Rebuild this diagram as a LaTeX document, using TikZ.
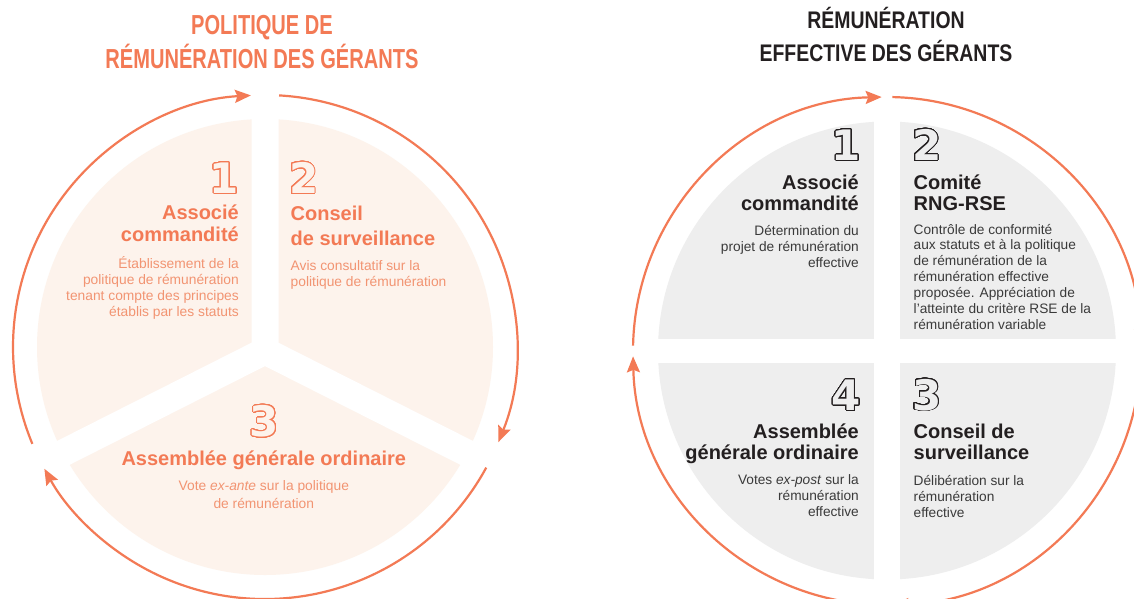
\documentclass[tikz,border=0pt]{standalone}
\usepackage{fontspec}
\setmainfont{Liberation Sans}
\newfontfamily\condA[FakeStretch=0.73]{Liberation Sans}
\newfontfamily\condB[FakeStretch=0.81]{Liberation Sans}
\newfontfamily\digitfont{DejaVu Sans}
\usepackage[copies]{contour}
\contourlength{0.8pt}
\contournumber{40}
\usetikzlibrary{arrows.meta,calc}
\definecolor{corange}{HTML}{F37A55}
\definecolor{lorange}{HTML}{F29472}
\definecolor{lfill}{HTML}{FDF3EC}
\definecolor{gfill}{HTML}{EEEEEE}
\definecolor{dark}{HTML}{231F20}
\definecolor{bodygray}{HTML}{3A3A3A}
\newcommand{\RT}[2]{\parbox[t]{#1}{\raggedleft #2}}
\newcommand{\LT}[2]{\parbox[t]{#1}{\raggedright #2}}
\newcommand{\CT}[2]{\parbox[t]{#1}{\centering #2}}
\tikzset{
  cyc/.style={draw=corange, line width=2.2pt, -{Stealth[length=16pt,width=13pt,inset=2.5pt]}},
  band/.style={draw=white, line width=#1},
  ltitle/.style={inner sep=0pt, anchor=base, text=corange, font=\fontsize{27.5}{34}\selectfont\condA\bfseries},
  rtitle/.style={inner sep=0pt, anchor=base, text=dark, font=\fontsize{24}{33}\selectfont\condB\bfseries},
  ldigit/.style={inner sep=0pt, font=\fontsize{42}{42}\selectfont\digitfont\bfseries},
  lhead/.style={inner sep=0pt, text=corange, font=\fontsize{20}{22.4}\selectfont\bfseries},
  lbody/.style={inner sep=0pt, text=lorange, font=\fontsize{13.8}{15.9}\selectfont},
  rhead/.style={inner sep=0pt, text=dark, font=\fontsize{20}{21.5}\selectfont\bfseries},
  rbody/.style={inner sep=0pt, text=bodygray, font=\fontsize{13.7}{15.9}\selectfont},
}
\begin{document}
\begin{tikzpicture}[x=1pt,y=1pt]
\useasboundingbox (0,0) rectangle (1134,-598);
\fill[white] (0,0) rectangle (1134,-598);

% ---------- titles ----------
\node[ltitle] (tl) at (262,-34) {\CT{420pt}{POLITIQUE DE\\RÉMUNÉRATION DES GÉRANTS}};
\node[rtitle] (tr) at (886,-28) {\CT{400pt}{RÉMUNÉRATION\\EFFECTIVE DES GÉRANTS}};

% ---------- left cycle ----------
\coordinate (LC) at (265,-347);
\coordinate (LY) at (265,-351);
\fill[lfill] (LC) circle[radius=228];
\draw[band=27pt, line cap=round] (LY) -- ++(90:240) (LY) -- ++(206.8:240) (LY) -- ++(-26.8:240);
\draw[cyc] ($(LC)+(202.6:252)$) arc[start angle=202.6, end angle=93.2, radius=252];
\draw[cyc] ($(LC)+(86.8:252)$) arc[start angle=86.8, end angle=-22.2, radius=252];
\draw[cyc] ($(LC)+(-28.6:252)$) arc[start angle=-28.6, end angle=-151.1, radius=252];

\node[ldigit, anchor=base east] (ld1) at (239,-193.5) {\contour{corange}{\color{lfill}1}};
\node[lhead, anchor=base east] (lh1) at (239,-219.3) {\RT{200pt}{Associé\\commandité}};
\node[lbody, anchor=base east] (lb1) at (239,-268.3) {\RT{220pt}{Établissement de la\\politique de rémunération\\tenant compte des principes\\établis par les statuts}};

\node[ldigit, anchor=base west] (ld2) at (289,-193.5) {\contour{corange}{\color{lfill}2}};
\node[lhead, anchor=base west, font=\fontsize{20}{25.7}\selectfont\bfseries] (lh2) at (290.5,-220) {\LT{200pt}{Conseil\\de surveillance}};
\node[lbody, anchor=base west, font=\fontsize{13.8}{16}\selectfont] (lb2) at (290.5,-270) {\LT{220pt}{Avis consultatif sur la\\politique de rémunération}};

\node[ldigit, anchor=base] (ld3) at (264.3,-436.5) {\contour{corange}{\color{lfill}3}};
\node[lhead, anchor=base] (lh3) at (263.8,-465.7) {\CT{340pt}{Assemblée générale ordinaire}};
\node[lbody, anchor=base, font=\fontsize{13.8}{17.6}\selectfont] (lb3) at (263.8,-490.7) {\CT{260pt}{Vote \textit{ex-ante} sur la politique\\de rémunération}};

% ---------- right cycle ----------
\coordinate (RC) at (887,-350.5);
\coordinate (RA) at (887,-351);
\fill[gfill] (RC) circle[radius=229];
\draw[band=26pt] ($(RC)+(0,240)$) -- ($(RC)+(0,-240)$);
\draw[band=24pt] ($(RC)+(-240,0)$) -- ($(RC)+(240,0)$);
\draw[cyc] ($(RA)+(178.8:254)$) arc[start angle=178.8, end angle=91.2, radius=254];
\draw[cyc] ($(RA)+(88.8:254)$) arc[start angle=88.8, end angle=1.2, radius=254];
\draw[cyc] ($(RA)+(-1.2:254)$) arc[start angle=-1.2, end angle=-88.8, radius=254];
\draw[cyc] ($(RA)+(-91.2:254)$) arc[start angle=-91.2, end angle=-178.8, radius=254];

\node[ldigit, anchor=base east] (rd1) at (861,-160.5) {\contour{dark}{\color{gfill}1}};
\node[rhead, anchor=base east] (rh1) at (859,-189) {\RT{200pt}{Associé\\commandité}};
\node[rbody, anchor=base east] (rb1) at (859,-235.4) {\RT{200pt}{Détermination du\\projet de rémunération\\effective}};

\node[ldigit, anchor=base west] (rd2) at (912,-160.5) {\contour{dark}{\color{gfill}2}};
\node[rhead, anchor=base west] (rh2) at (913.5,-189) {\LT{200pt}{Comité\\RNG-RSE}};
\node[rbody, anchor=base west] (rb2) at (913.5,-234) {\LT{210pt}{Contrôle de conformité\\aux statuts et à la politique\\de rémunération de la\\rémunération effective\\proposée. Appréciation de\\l'atteinte du critère RSE de la\\rémunération variable}};

\node[ldigit, anchor=base east] (rd4) at (861,-410.5) {\contour{dark}{\color{gfill}4}};
\node[rhead, anchor=base east] (rh4) at (859,-438) {\RT{220pt}{Assemblée\\générale ordinaire}};
\node[rbody, anchor=base east] (rb4) at (859,-484.7) {\RT{200pt}{Votes \textit{ex-post} sur la\\rémunération\\effective}};

\node[ldigit, anchor=base west] (rd3) at (912,-410) {\contour{dark}{\color{gfill}3}};
\node[rhead, anchor=base west] (rh3) at (913.5,-438) {\LT{200pt}{Conseil de\\surveillance}};
\node[rbody, anchor=base west] (rb3) at (913.5,-485.4) {\LT{200pt}{Délibération sur la\\rémunération\\effective}};
\end{tikzpicture}
\end{document}
